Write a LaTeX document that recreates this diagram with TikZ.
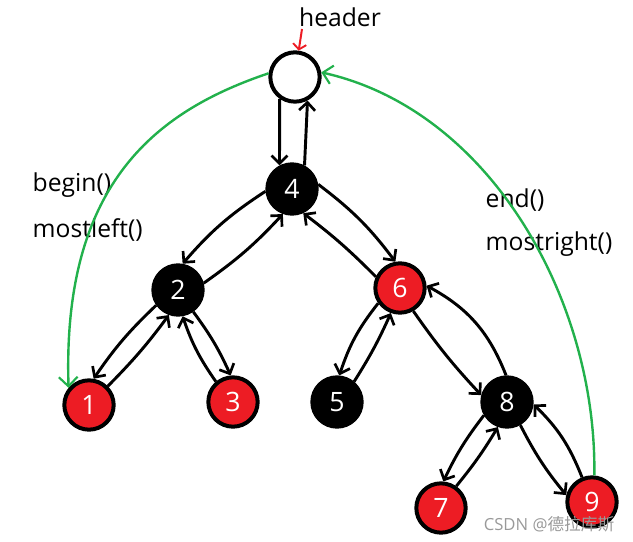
\documentclass[tikz,border=0pt]{standalone}
\usepackage{fontspec}
\setmainfont{Open Sans}
\newfontfamily\cjkfont{Noto Sans CJK SC}
\usepackage{tikz}
\usetikzlibrary{arrows.meta}
\usetikzlibrary{positioning}

\definecolor{paintRed}{RGB}{237,28,36}
\definecolor{paintGreen}{RGB}{34,177,76}

\begin{document}
\begin{tikzpicture}
      [x=0.75pt,y=-0.75pt,
       treeNode/.style={circle,draw=black,line width=3pt,minimum size=37pt,inner sep=0pt,
                        text=white,font=\fontsize{20}{22}\selectfont},
       redNode/.style={treeNode,fill=paintRed},
       blackNode/.style={treeNode,fill=black},
       link/.style={line width=2.2pt,-{Straight Barb[length=6pt,width=12pt,line width=2pt]}},
       greenLink/.style={paintGreen,line width=1.8pt,-{Straight Barb[length=7pt,width=14pt,line width=1.6pt]}},
       label/.style={font=\fontsize{18.5}{22}\selectfont,anchor=west}]
      \useasboundingbox (0,0) rectangle (633,542);
      % nodes
      \node[treeNode,fill=white] (header) at (295,77) {};
      \node[blackNode] (n4) at (292,189) {4};
      \node[blackNode] (n2) at (178,290) {2};
      \node[redNode] (n6) at (400,288) {6};
      \node[redNode] (n1) at (89,405) {1};
      \node[redNode] (n3) at (233,402) {3};
      \node[blackNode] (n5) at (337,402) {5};
      \node[blackNode] (n8) at (507,402) {8};
      \node[redNode] (n7) at (441,508) {7};
      \node[redNode] (n9) at (592,502) {9};
      % texts
      \node[font=\fontsize{18.5}{22}\selectfont] (headerLabel) at (340,17) {header};
      \node[label] (beginLabel) at (28,185) {begin()};
      \node[label] (mostleftLabel) at (28,230) {mostleft()};
      \node[label] (endLabel) at (481,200) {end()};
      \node[label] (mostrightLabel) at (481,244) {mostright()};
      \node[text=black!40,font=\fontsize{12.5}{14}\selectfont] (mark) at (549,524) {CSDN @{\cjkfont 德拉库斯}};
      % parent / child pointers
      \draw[link] (header.235) -- (n4.118);
      \draw[link] (n4.62) -- (header.298);
      \draw[link] (n4.185) to[bend right=8] (n2.80);
      \draw[link] (n2.15) to[bend right=6] (n4.250);
      \draw[link] (n4.10) to[bend left=8] (n6.100);
      \draw[link] (n6.155) to[bend right=4] (n4.295);
      \draw[link] (n2.215) to[bend right=6] (n1.80);
      \draw[link] (n1.45) to[bend right=4] (n2.250);
      \draw[link] (n2.305) to[bend left=6] (n3.95);
      \draw[link] (n3.130) to[bend left=8] (n2.280);
      \draw[link] (n6.215) to[bend right=10] (n5.85);
      \draw[link] (n5.50) to[bend right=4] (n6.250);
      \draw[link] (n6.300) to[bend right=4] (n8.165);
      \draw[link] (n8.92) to[bend right=20] (n6.5);
      \draw[link] (n8.210) to[bend right=6] (n7.85);
      \draw[link] (n7.55) to[bend right=4] (n8.250);
      \draw[link] (n8.300) to[bend right=6] (n9.165);
      \draw[link] (n9.112) to[bend right=12] (n8.355);
      % header pointer and begin / end
      \coordinate (redTail) at (302,29);
      \draw[paintRed,line width=1.5pt,-{Straight Barb[length=4pt,width=10pt,line width=1.4pt]}] (redTail) -- (header.82);
      \draw[greenLink] (header.172) .. controls (160,110) and (62,180) .. (n1.140);
      \draw[greenLink] (n9.85) .. controls (597,300) and (490,110) .. (header.10);
\end{tikzpicture}
\end{document}
